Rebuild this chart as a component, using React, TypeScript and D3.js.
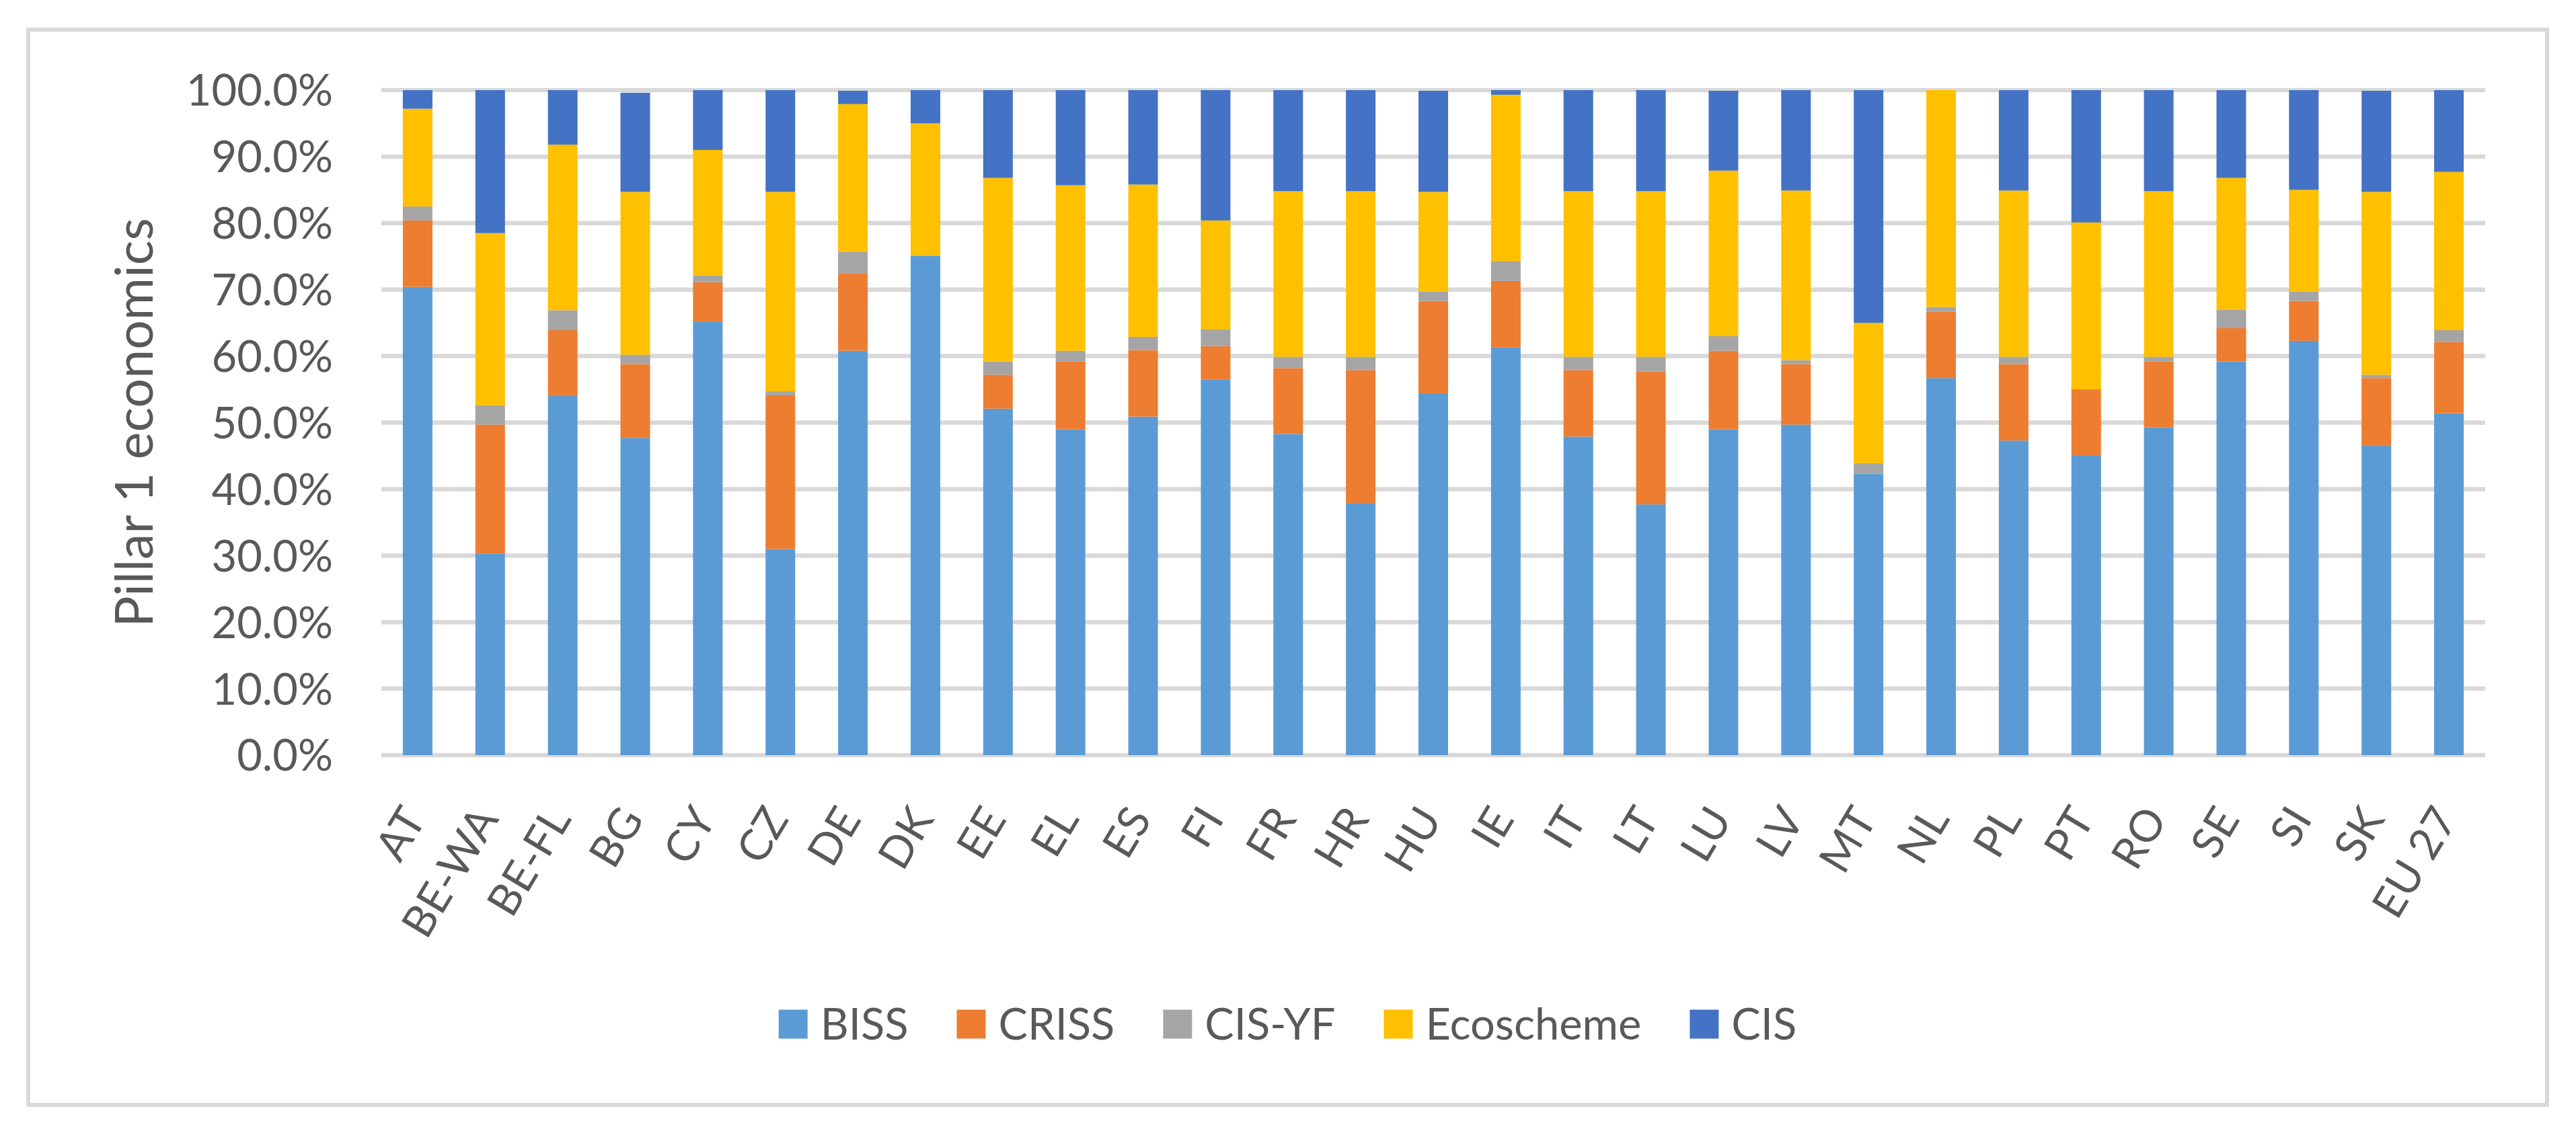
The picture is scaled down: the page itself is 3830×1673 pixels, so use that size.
import { useRef, useEffect } from 'react';
import * as d3 from 'd3';

const categories = ['AT', 'BE-WA', 'BE-FL', 'BG', 'CY', 'CZ', 'DE', 'DK', 'EE', 'EL', 'ES', 'FI', 'FR', 'HR', 'HU', 'IE', 'IT', 'LT', 'LU', 'LV', 'MT', 'NL', 'PL', 'PT', 'RO', 'SE', 'SI', 'SK', 'EU 27'];

// shares in percent
const biss = [70.4, 30.3, 54.0, 47.7, 65.2, 31.0, 60.8, 75.1, 52.1, 49.0, 50.9, 56.5, 48.3, 37.9, 54.4, 61.3, 47.9, 37.7, 49.0, 49.7, 42.3, 56.7, 47.3, 45.0, 49.3, 59.2, 62.3, 46.5, 51.4];
const criss = [10.0, 19.4, 9.9, 11.1, 5.9, 23.1, 11.6, 0, 5.1, 10.2, 10.0, 5.0, 9.9, 20.0, 13.9, 10.0, 10.0, 20.0, 11.8, 9.1, 0, 10.0, 11.5, 10.0, 9.9, 5.0, 6.0, 10.2, 10.7];
const cisYf = [2.1, 2.9, 3.0, 1.4, 1.0, 0.6, 3.3, 0, 2.0, 1.6, 2.0, 2.5, 1.7, 2.0, 1.4, 3.0, 2.0, 2.2, 2.2, 0.6, 1.6, 0.7, 1.1, 0, 0.7, 2.8, 1.4, 0.5, 1.8];
const ecoscheme = [14.7, 25.9, 24.9, 24.5, 18.9, 30.0, 22.2, 19.9, 27.6, 24.9, 22.9, 16.4, 24.9, 24.9, 15.0, 25.0, 24.9, 24.9, 24.9, 25.5, 21.1, 32.6, 25.0, 25.1, 24.9, 19.8, 15.3, 27.5, 23.8];
const cis = [2.8, 21.5, 8.2, 14.9, 9.0, 15.3, 2.0, 5.0, 13.2, 14.3, 14.2, 19.6, 15.2, 15.2, 15.2, 0.7, 15.2, 15.2, 12.0, 15.1, 35.0, 0, 15.1, 19.9, 15.2, 13.2, 15.0, 15.2, 12.3];

const seriesNames = ['BISS', 'CRISS', 'CIS-YF', 'Ecoscheme', 'CIS'];
const seriesColors = ['#5B9BD5', '#ED7D31', '#A5A5A5', '#FFC000', '#4472C4'];
const yTicks = [0, 0.1, 0.2, 0.3, 0.4, 0.5, 0.6, 0.7, 0.8, 0.9, 1.0];

const W = 3830;
const H = 1673;
const FONT = 'Lato, "Open Sans", sans-serif';
const TEXT = '#595959';
const GRID = '#D9D9D9';

export default function App() {
  const svgRef = useRef<SVGSVGElement>(null);

  useEffect(() => {
    if (!svgRef.current) return;
    const svg = d3.select(svgRef.current);
    svg.selectAll('*').remove();

    const margin = { top: 134, right: W - 3695, bottom: H - 1123, left: 567 };

    const rows = categories.map((c, i) => ({
      cat: c,
      BISS: biss[i] / 100,
      CRISS: criss[i] / 100,
      'CIS-YF': cisYf[i] / 100,
      Ecoscheme: ecoscheme[i] / 100,
      CIS: cis[i] / 100
    }));

    const xScale = d3.scaleBand()
      .domain(categories)
      .range([margin.left, W - margin.right])
      .paddingInner(0.592)
      .paddingOuter(0.296);

    const yScale = d3.scaleLinear()
      .domain([0, 1])
      .range([H - margin.bottom, margin.top]);

    // chart frame
    svg.append('rect')
      .attr('x', 42)
      .attr('y', 44)
      .attr('width', 3787 - 42)
      .attr('height', 1643 - 44)
      .attr('fill', 'white')
      .attr('stroke', GRID)
      .attr('stroke-width', 6);

    // gridlines
    svg.append('g')
      .selectAll('line')
      .data(yTicks)
      .join('line')
      .attr('x1', margin.left)
      .attr('x2', W - margin.right)
      .attr('y1', d => yScale(d))
      .attr('y2', d => yScale(d))
      .attr('stroke', GRID)
      .attr('stroke-width', 6.5);

    // y tick labels
    svg.append('g')
      .selectAll('text')
      .data(yTicks)
      .join('text')
      .attr('x', 495)
      .attr('y', d => yScale(d))
      .attr('dy', '0.36em')
      .attr('text-anchor', 'end')
      .attr('font-family', FONT)
      .attr('font-size', 65)
      .attr('fill', TEXT)
      .text(d => d3.format('.1%')(d));

    // y title
    svg.append('text')
      .attr('transform', `translate(227,${(yScale(0) + yScale(1)) / 2}) rotate(-90)`)
      .attr('text-anchor', 'middle')
      .attr('font-family', FONT)
      .attr('font-size', 77)
      .attr('fill', TEXT)
      .text('Pillar 1 economics');

    // stacked bars
    const stacked = d3.stack<any>().keys(seriesNames)(rows);
    stacked.forEach((layer, si) => {
      svg.append('g')
        .attr('fill', seriesColors[si])
        .selectAll('rect')
        .data(layer)
        .join('rect')
        .attr('x', d => xScale(d.data.cat) as number)
        .attr('width', xScale.bandwidth())
        .attr('y', d => yScale(d[1]))
        .attr('height', d => Math.max(0, yScale(d[0]) - yScale(d[1])));
    });

    // x labels
    svg.append('g')
      .selectAll('text')
      .data(categories)
      .join('text')
      .attr('transform', d => `translate(${(xScale(d) as number) + xScale.bandwidth() / 2 + 14},${yScale(0) + 95}) rotate(-59)`)
      .attr('text-anchor', 'end')
      .attr('font-family', FONT)
      .attr('font-size', 65)
      .attr('fill', TEXT)
      .text(d => d);

    // legend
    const legend = svg.append('g');
    const items = seriesNames.map((name, i) => {
      const g = legend.append('g');
      g.append('rect')
        .attr('width', 43)
        .attr('height', 43)
        .attr('y', -21.5)
        .attr('fill', seriesColors[i]);
      const t = g.append('text')
        .attr('x', 62)
        .attr('dy', '0.36em')
        .attr('font-family', FONT)
        .attr('font-size', 65)
        .attr('fill', TEXT)
        .text(name);
      const w = (t.node() as SVGTextElement).getComputedTextLength();
      return { g, w: 62 + w };
    });
    const gap = 72;
    const total = d3.sum(items, d => d.w) + gap * (items.length - 1);
    let x0 = (42 + 3787) / 2 - total / 2;
    items.forEach(it => {
      it.g.attr('transform', `translate(${x0},1523)`);
      x0 += it.w + gap;
    });
  }, []);

  return (
    <div>
      <style>{'body{margin:0;background:#fff}'}</style>
      <svg ref={svgRef} width={W} height={H} style={{ display: 'block' }} />
    </div>
  );
}
